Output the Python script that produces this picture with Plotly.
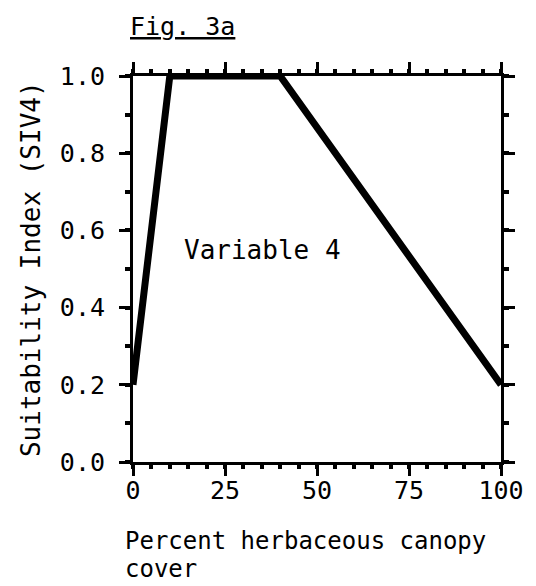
import plotly.graph_objects as go

# Data
cover_pct = [0, 10, 40, 100]
siv4 = [0.2, 1.0, 1.0, 0.2]
x_ticks = [0, 25, 50, 75, 100]
y_ticks = [0.0, 0.2, 0.4, 0.6, 0.8, 1.0]

FONT = "DejaVu Sans Mono"

fig = go.Figure()
fig.add_trace(go.Scatter(
    x=cover_pct, y=siv4, mode="lines",
    line=dict(color="black", width=7),
    showlegend=False, hoverinfo="skip",
))

axis_common = dict(
    showline=True, linecolor="black", linewidth=3,
    mirror="ticks", ticks="outside", ticklen=11, tickwidth=3, tickcolor="black",
    showgrid=False, zeroline=False,
    tickfont=dict(family=FONT, size=25, color="black"),
)

fig.update_xaxes(
    range=[0, 100], tickvals=x_ticks, ticktext=[str(v) for v in x_ticks],
    minor=dict(dtick=5, tick0=0, ticks="outside", ticklen=4, tickwidth=4, tickcolor="black", showgrid=False),
    ticklabelstandoff=-7,
    **axis_common,
)
fig.update_yaxes(
    range=[0, 1], tickvals=y_ticks, ticktext=[f"{v:.1f}" for v in y_ticks],
    minor=dict(dtick=0.1, tick0=0, ticks="outside", ticklen=5, tickwidth=4, tickcolor="black", showgrid=False),
    ticklabelstandoff=9,
    **axis_common,
)

annots = [
    dict(text="<u>Fig. 3a</u>", xref="paper", yref="paper", x=-0.013, y=1.1295,
         xanchor="left", yanchor="middle", font=dict(family=FONT, size=25, color="black")),
    dict(text="Variable 4", xref="x", yref="y", x=35.1, y=0.549,
         xanchor="center", yanchor="middle", font=dict(family=FONT, size=26, color="black")),
    dict(text="Percent herbaceous canopy", xref="paper", yref="paper", x=-0.026, y=-0.2474,
         xanchor="left", yanchor="bottom", font=dict(family=FONT, size=24, color="black")),
    dict(text="cover", xref="paper", yref="paper", x=-0.026, y=-0.3199,
         xanchor="left", yanchor="bottom", font=dict(family=FONT, size=24, color="black")),
    dict(text="Suitability Index (SIV4)", xref="paper", yref="paper", x=-0.277, y=0.5,
         xanchor="center", yanchor="middle", textangle=-90,
         font=dict(family=FONT, size=26, color="black")),
]
for a in annots:
    a["showarrow"] = False
fig.update_layout(
    width=528, height=578,
    margin=dict(l=125, r=24, t=68, b=124),
    paper_bgcolor="white", plot_bgcolor="white",
    annotations=annots,
)

fig.write_html("out.html")
